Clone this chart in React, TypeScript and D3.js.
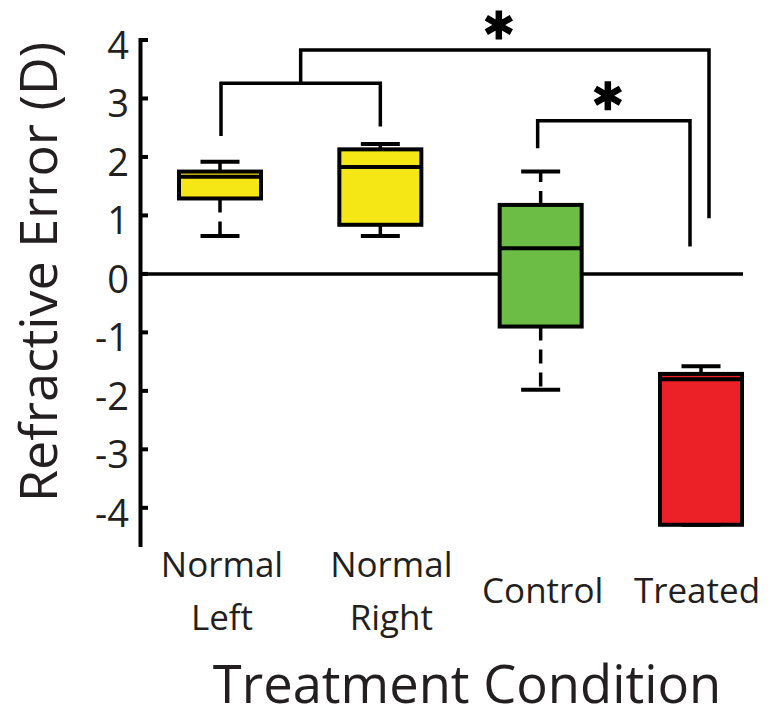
import React from "react";
import * as d3 from "d3";

const categories = ["Normal Left", "Normal Right", "Control", "Treated"];
const labelLines = [["Normal", "Left"], ["Normal", "Right"], ["Control"], ["Treated"]];
const whiskerLow = [0.65, 0.65, -1.98, -4.29];
const q1 = [1.29, 0.84, -0.9, -4.29];
const median = [1.66, 1.83, 0.44, -1.8];
const q3 = [1.75, 2.13, 1.18, -1.71];
const whiskerHigh = [1.92, 2.22, 1.75, -1.58];
const yTicks = [-4, -3, -2, -1, 0, 1, 2, 3, 4];

// significance brackets: top level and the two leg ends (in dioptres)
const bracketTop = [3.26, 3.83, 2.62];
const bracketLegs = [
  [2.36, 2.52],
  [3.26, 0.95],
  [2.15, 0.47],
];
const starred = [false, true, true];

const W = 768;
const H = 721;
const ink = "#231f20";
const font = "'Open Sans', sans-serif";

export default function App() {
  const y = d3.scaleLinear().domain([-4.67, 4]).range([547, 40]);
  const x = d3.scalePoint().domain(categories).range([220, 701]);
  const color = d3
    .scaleOrdinal<string, string>()
    .domain(categories)
    .range(["#f5e616", "#f5e616", "#6cbd45", "#ec2027"]);
  const boxW = 82;
  const capW = 39;
  const axisX = 140.5;
  const labelShift = [2, 11, 2, -4];

  const px = (i: number) => x(categories[i]) as number;
  // horizontal extents of brackets
  const b0 = [px(0) + 1, px(1)];
  const b1 = [(b0[0] + b0[1]) / 2, px(3) + 8];
  const b2 = [px(2) - 3, px(3) - 11];
  const bx = [b0, b1, b2];

  const star = d3.symbol(d3.symbolAsterisk, 590)() as string;

  return (
    <svg width={W} height={H} style={{ position: "absolute", left: 0, top: 0 }}>
      <rect width={W} height={H} fill="#fff" />

      {/* zero line */}
      <line x1={axisX} x2={743} y1={y(0)} y2={y(0)} stroke="#000" strokeWidth={3.5} />

      {/* boxes */}
      {categories.map((c, i) => {
        const cx = px(i);
        return (
          <g key={c}>
            <path
              d={`M${cx},${y(q3[i])}L${cx},${y(whiskerHigh[i])}`}
              stroke="#000"
              strokeWidth={3.5}
              strokeDasharray="14 9"
            />
            <path
              d={`M${cx},${y(q1[i])}L${cx},${y(whiskerLow[i])}`}
              stroke="#000"
              strokeWidth={3.5}
              strokeDasharray="14 9"
            />
            <line x1={cx - capW / 2} x2={cx + capW / 2} y1={y(whiskerHigh[i])} y2={y(whiskerHigh[i])} stroke="#000" strokeWidth={4} />
            <line x1={cx - capW / 2} x2={cx + capW / 2} y1={y(whiskerLow[i])} y2={y(whiskerLow[i])} stroke="#000" strokeWidth={4} />
            <rect
              x={cx - boxW / 2}
              y={y(q3[i])}
              width={boxW}
              height={y(q1[i]) - y(q3[i])}
              fill={color(c)}
              stroke="#000"
              strokeWidth={4}
            />
            <line x1={cx - boxW / 2} x2={cx + boxW / 2} y1={y(median[i])} y2={y(median[i])} stroke="#000" strokeWidth={4} />
          </g>
        );
      })}

      {/* brackets */}
      {bracketTop.map((t, i) => {
        const [xa, xb] = bx[i];
        const [la, lb] = bracketLegs[i];
        return (
          <g key={i}>
            <path
              d={`M${xa},${y(la)}L${xa},${y(t)}L${xb},${y(t)}L${xb},${y(lb)}`}
              fill="none"
              stroke="#000"
              strokeWidth={3.5}
            />
            {starred[i] && (
              <path
                d={star}
                transform={`translate(${(xa + xb) / 2 - 6},${y(t) - 25})`}
                stroke="#000"
                strokeWidth={6.5}
                fill="none"
              />
            )}
          </g>
        );
      })}

      {/* y axis */}
      <line x1={axisX} x2={axisX} y1={38} y2={547} stroke="#000" strokeWidth={4} />
      {yTicks.map((t) => (
        <g key={t}>
          <line x1={axisX} x2={148} y1={y(t)} y2={y(t)} stroke="#000" strokeWidth={4} />
          <text
            x={129}
            y={y(t) + 19}
            textAnchor="end"
            fontFamily={font}
            fontSize={38}
            fill={ink}
          >
            {t < 0 ? `-${Math.abs(t)}` : `${t}`}
          </text>
        </g>
      ))}
      <text
        transform={`translate(57,272) rotate(-90)`}
        textAnchor="middle"
        fontFamily={font}
        fontSize={52}
        fill={ink}
      >
        Refractive Error (D)
      </text>

      {/* category labels */}
      {categories.map((c, i) => {
        const lines = labelLines[i];
        const base = lines.length > 1 ? 577 : 603;
        return (
          <text key={c} textAnchor="middle" fontFamily={font} fontSize={35} fill={ink}>
            {lines.map((l, j) => (
              <tspan key={j} x={px(i) + labelShift[i]} y={base + j * 53}>
                {l}
              </tspan>
            ))}
          </text>
        );
      })}

      <text x={467} y={703} textAnchor="middle" fontFamily={font} fontSize={52.5} fill={ink}>
        Treatment Condition
      </text>
    </svg>
  );
}
